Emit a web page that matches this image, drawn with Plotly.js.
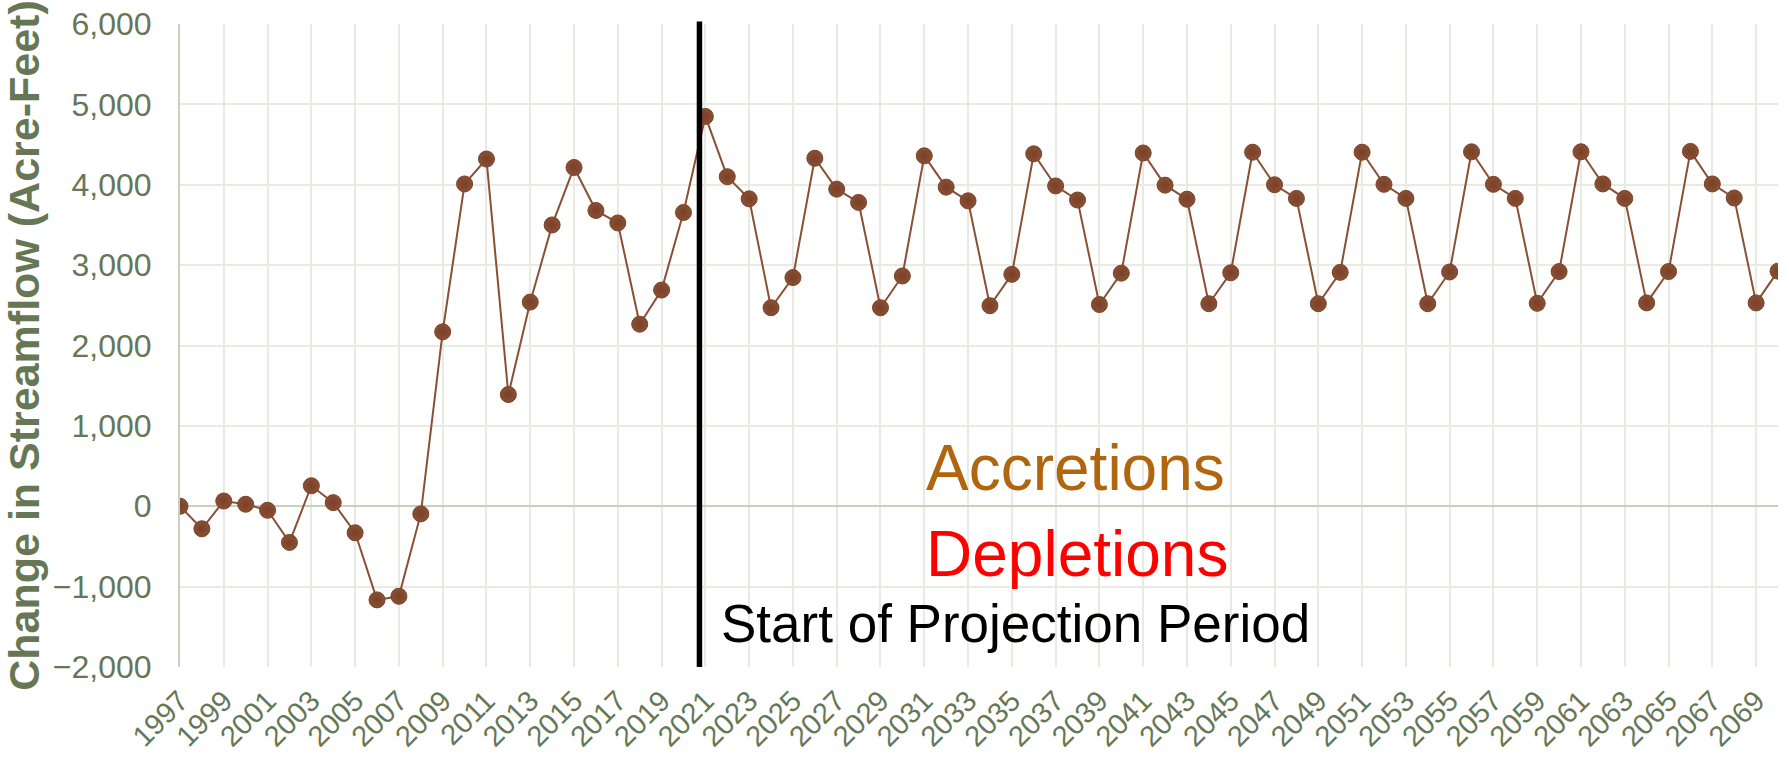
<!DOCTYPE html>
<html>
<head>
<meta charset="utf-8">
<script src="https://cdn.plot.ly/plotly-3.0.1.min.js"></script>
<style>
  html, body { margin: 0; padding: 0; background: #ffffff; }
  #chart { width: 1789px; height: 757px; }
</style>
</head>
<body>
<div id="chart"></div>
<script>
// ---- Data ----
const years = [];
for (let y = 1997; y <= 2070; y++) years.push(y);

const streamflowChange = [
  0, -280, 65, 25, -50, -450, 255, 45, -330, -1165,
  -1120, -95, 2170, 4010, 4320, 1390, 2540, 3500, 4215, 3680,
  3525, 2265, 2690, 3655, 4850, 4100, 3825, 2470, 2845, 4330,
  3945, 3780, 2470, 2865, 4360, 3970, 3800, 2495, 2885, 4385,
  3985, 3810, 2510, 2900, 4395, 3995, 3820, 2520, 2905, 4405,
  4000, 3830, 2520, 2910, 4405, 4005, 3830, 2520, 2915, 4410,
  4005, 3830, 2525, 2920, 4410, 4010, 3830, 2530, 2920, 4415,
  4010, 3835, 2530, 2925
];

const xTickYears = [];
for (let y = 1997; y <= 2069; y += 2) xTickYears.push(y);
const xTickLabels = xTickYears.map(String);

const yTickValues = [-2000, -1000, 0, 1000, 2000, 3000, 4000, 5000, 6000];

const projectionStart = 2020.73;

const labelAccretions = "Accretions";
const labelDepletions = "Depletions";
const labelProjection = "Start of Projection Period";

// ---- Styles ----
const axisColor = "#667756";
const gridColor = "#e9ebe3";
const lineBrown = "#8a4f35";

const trace = {
  x: years,
  y: streamflowChange,
  type: "scatter",
  mode: "lines+markers",
  line: { color: lineBrown, width: 2 },
  marker: {
    size: 16,
    color: "#8a5035",
    line: { color: "#7a4229", width: 1 },
    gradient: { type: "radial", color: "#7a4028" }
  },
  hoverinfo: "x+y",
  showlegend: false
};

const layout = {
  width: 1789,
  height: 757,
  margin: { l: 180, r: 11, t: 24, b: 90 },
  paper_bgcolor: "#ffffff",
  plot_bgcolor: "#ffffff",
  font: { family: "Liberation Sans, Arial, sans-serif", color: axisColor },
  xaxis: {
    type: "linear",
    range: [1997, 2070],
    tickmode: "array",
    tickvals: xTickYears,
    ticktext: xTickLabels,
    tickangle: -45,
    tickfont: { size: 29, color: axisColor },
    ticklabelstandoff: 10,
    showgrid: true,
    gridcolor: gridColor,
    gridwidth: 2,
    zeroline: false,
    showline: false,
    ticks: "",
    fixedrange: true
  },
  yaxis: {
    range: [-2000, 6000],
    tickmode: "array",
    tickvals: yTickValues,
    tickformat: ",",
    tickfont: { size: 32, color: axisColor },
    ticklabelstandoff: 20,
    showgrid: true,
    gridcolor: gridColor,
    gridwidth: 2,
    zeroline: true,
    zerolinecolor: "#c9d0bd",
    zerolinewidth: 2,
    showline: true,
    linecolor: "#c9d0bd",
    linewidth: 2,
    ticks: "",
    title: {
      text: "<b>Change in Streamflow (Acre-Feet)</b>",
      font: { size: 43, color: axisColor },
      standoff: 5
    },
    fixedrange: true
  },
  shapes: [
    {
      type: "line",
      xref: "x", yref: "paper",
      x0: projectionStart, x1: projectionStart,
      y0: 0, y1: 1.004,
      line: { color: "#000000", width: 5.5 }
    }
  ],
  annotations: [
    {
      text: labelAccretions,
      xref: "x", yref: "y",
      x: 2031.0, y: 470,
      xanchor: "left", yanchor: "middle",
      showarrow: false,
      font: { size: 64, color: "#b0650f" }
    },
    {
      text: labelDepletions,
      xref: "x", yref: "y",
      x: 2031.0, y: -595,
      xanchor: "left", yanchor: "middle",
      showarrow: false,
      font: { size: 64, color: "#ff0000" }
    },
    {
      text: labelProjection,
      xref: "x", yref: "y",
      x: 2021.6, y: -1460,
      xanchor: "left", yanchor: "middle",
      showarrow: false,
      font: { size: 53, color: "#000000" }
    }
  ]
};

Plotly.newPlot("chart", [trace], layout, { displayModeBar: false, staticPlot: true });
</script>
</body>
</html>
